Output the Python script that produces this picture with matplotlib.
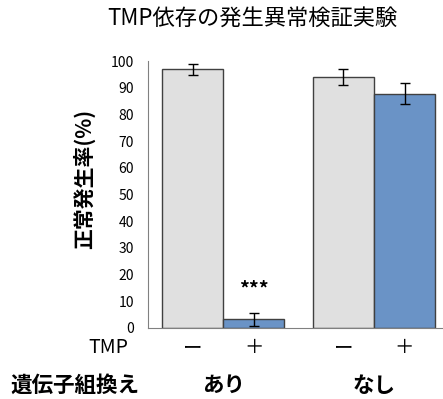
import matplotlib
matplotlib.use("Agg")
import matplotlib.pyplot as plt

plt.rcParams['font.family'] = ['Noto Sans CJK JP', 'DejaVu Sans']

# data
groups = ['あり', 'なし']
tmp_labels = ['ー', '＋', 'ー', '＋']
values = [96.9, 3.2, 94.0, 87.8]
errors = [2.1, 2.5, 3.1, 3.8]
colors = ['#e0e0e0', '#6a93c6', '#e0e0e0', '#6a93c6']
xpos = [0, 1, 2.47, 3.47]
yticks = list(range(0, 101, 10))

fig = plt.figure(figsize=(4.43, 3.99), dpi=100)
ax = fig.add_axes([0.334, 0.178, 0.666, 0.669])

ax.bar(xpos, values, width=1.0, color=colors, edgecolor='#404040', linewidth=1.0)
ax.errorbar(xpos, values, yerr=errors, fmt='none', ecolor='black', elinewidth=1.0, capsize=3.6, capthick=1.0)

ax.text(xpos[1], 14.5, '***', ha='center', va='center', fontsize=14, fontweight='bold')

ax.set_xlim(-0.73, 4.1)
ax.set_ylim(0, 100)
ax.set_yticks(yticks)
ax.tick_params(axis='y', length=0, labelsize=10, pad=10)
ax.set_xticks([])
for s in ['top', 'right']:
    ax.spines[s].set_visible(False)
ax.spines['left'].set_color('#808080')
ax.spines['bottom'].set_color('#808080')
ax.set_ylabel('正常発生率(%)', fontsize=15, fontweight='bold')
ax.yaxis.set_label_coords(-0.18, 0.56)

fig.text(0.57, 0.955, 'TMP依存の発生異常検証実験', ha='center', va='center', fontsize=16)

# row labels below the axis
trans = ax.get_xaxis_transform()
ax.text(-1.38, -0.072, 'TMP', transform=trans, ha='center', va='center', fontsize=14, clip_on=False)
for x, t in zip(xpos, tmp_labels):
    ax.text(x, -0.072, t, transform=trans, ha='center', va='center', fontsize=14, clip_on=False)
ax.text(-1.93, -0.215, '遺伝子組換え', transform=trans, ha='center', va='center', fontsize=15.5, fontweight='bold', clip_on=False)
ax.text(0.5, -0.215, groups[0], transform=trans, ha='center', va='center', fontsize=15.5, fontweight='bold', clip_on=False)
ax.text(2.97, -0.215, groups[1], transform=trans, ha='center', va='center', fontsize=15.5, fontweight='bold', clip_on=False)

fig.savefig('out.png', dpi=100)
